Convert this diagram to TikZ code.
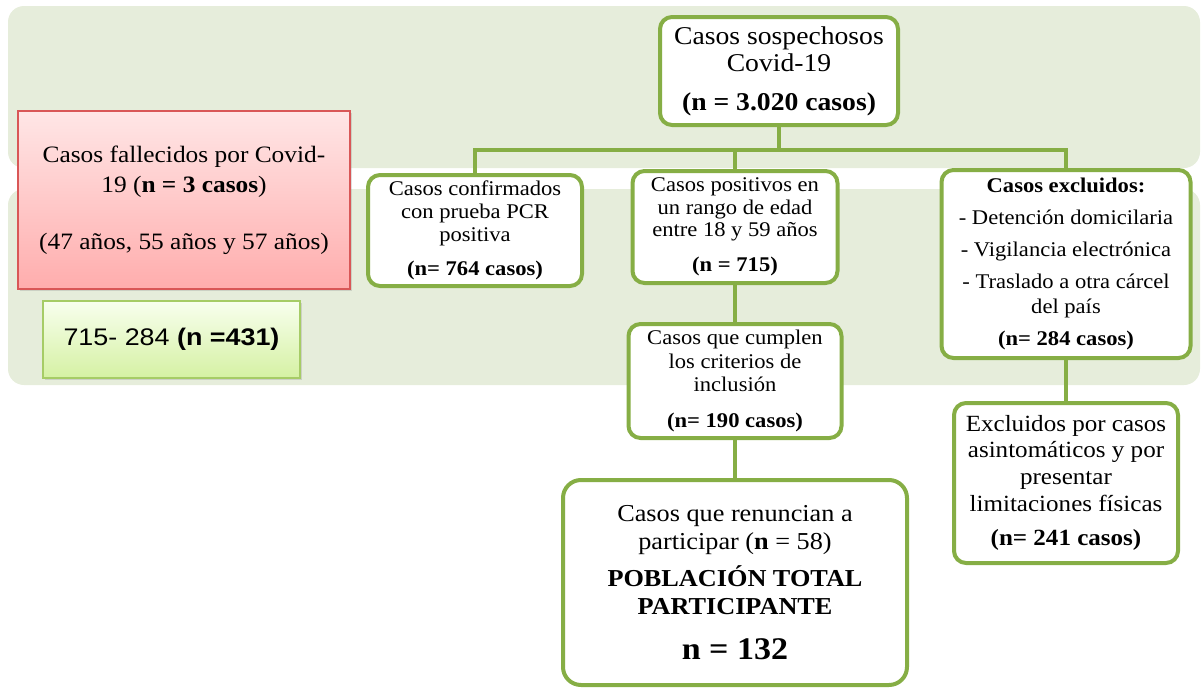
\documentclass[tikz,border=0pt]{standalone}
\usepackage{fontspec}
\setmainfont{Liberation Serif}[FakeStretch=1.08]
\newfontfamily\arialf{Liberation Sans}[FakeStretch=1.12]
\usetikzlibrary{shadows}
\definecolor{band}{HTML}{E6EDDB}
\definecolor{gline}{HTML}{86AE45}
\definecolor{redtop}{HTML}{FFE6E6}
\definecolor{redbot}{HTML}{FFADAD}
\definecolor{redline}{HTML}{D95757}
\definecolor{grtop}{HTML}{F8FFEE}
\definecolor{grbot}{HTML}{D5F1A3}
\definecolor{grline}{HTML}{A6CC66}
\begin{document}
\begin{tikzpicture}[x=1pt,y=-1pt,
  gbox/.style={draw=gline, line width=4pt, fill=white, rounded corners=12pt, align=center, inner sep=0pt},
  conn/.style={draw=gline, line width=4pt},
  bandbg/.style={fill=band, rounded corners=16pt},
  shad/.style={drop shadow={opacity=0.25, shadow xshift=2pt, shadow yshift=-2pt}}]
\useasboundingbox (0,0) rectangle (1202,688);
\fill[bandbg] (8,6) rectangle (1200,168);
\fill[bandbg] (8,189) rectangle (1200,385);

\node[gbox, minimum width=238pt, minimum height=108pt, font=\fontsize{25.6}{27}\selectfont] (top) at (779,71)
  {Casos sospechosos\\Covid-19\\[12pt]\textbf{(n = 3.020 casos)}};

\node[gbox, minimum width=214pt, minimum height=111pt, font=\fontsize{20.9}{23}\selectfont] (conf) at (475,230.5)
  {Casos confirmados\\con prueba PCR\\positiva\\[11pt]\textbf{(n= 764 casos)}};

\node[gbox, minimum width=205pt, minimum height=112pt, font=\fontsize{20.9}{22.5}\selectfont] (pos) at (735,227)
  {Casos positivos en\\un rango de edad\\entre 18 y 59 años\\[12pt]\textbf{(n = 715)}};

\node[gbox, minimum width=213pt, minimum height=114pt, font=\fontsize{20.9}{23.5}\selectfont] (cumplen) at (735,381)
  {Casos que cumplen\\los criterios de\\inclusión\\[12pt]\textbf{(n= 190 casos)}};

\node[gbox, minimum width=249pt, minimum height=188pt, font=\fontsize{20.9}{25}\selectfont] (excl) at (1066,264)
  {\textbf{Casos excluidos:}\\[7pt]- Detención domicilaria\\[7pt]- Vigilancia electrónica\\[7pt]- Traslado a otra cárcel\\del país\\[7pt]\textbf{(n= 284 casos)}};

\node[gbox, minimum width=224pt, minimum height=160pt, font=\fontsize{23.2}{26.7}\selectfont] (exclp) at (1066,483)
  {Excluidos por casos\\asintomáticos y por\\presentar\\limitaciones físicas\\[8pt]\textbf{(n= 241 casos)}};

\node[gbox, rounded corners=18pt, minimum width=344pt, minimum height=205pt, font=\fontsize{24.3}{28.5}\selectfont] (ren) at (735,582.5)
  {Casos que renuncian a\\participar (\textbf{n} = 58)\\[8pt]\textbf{POBLACIÓN TOTAL}\\\textbf{PARTICIPANTE}\\[16.5pt]{\fontsize{31.5}{34}\selectfont\bfseries n = 132}};

\node[shad, draw=redline, line width=1.2pt, top color=redtop, bottom color=redbot, minimum width=332pt, minimum height=178pt, align=center, inner sep=0pt, font=\fontsize{23.5}{30}\selectfont] (dead) at (184,200)
  {Casos fallecidos por Covid-\\19 (\textbf{n = 3 casos})\\[27pt](47 años, 55 años y 57 años)};

\node[shad, draw=grline, line width=1.2pt, top color=grtop, bottom color=grbot, minimum width=257pt, minimum height=77pt, inner sep=0pt, font=\arialf\fontsize{24}{28}\selectfont] (calc) at (171.5,339.5)
  {715- 284 \textbf{(n =431)}};

\coordinate (hub) at (779,150);
\draw[conn] (top.south) -- (hub);
\draw[conn] (conf.north) |- (hub) -| (excl.north);
\draw[conn] (pos.north) -- (pos.north |- hub);
\draw[conn] (pos.south) -- (cumplen.north);
\draw[conn] (cumplen.south) -- (ren.north);
\draw[conn] (excl.south) -- (exclp.north);
\end{tikzpicture}
\end{document}
